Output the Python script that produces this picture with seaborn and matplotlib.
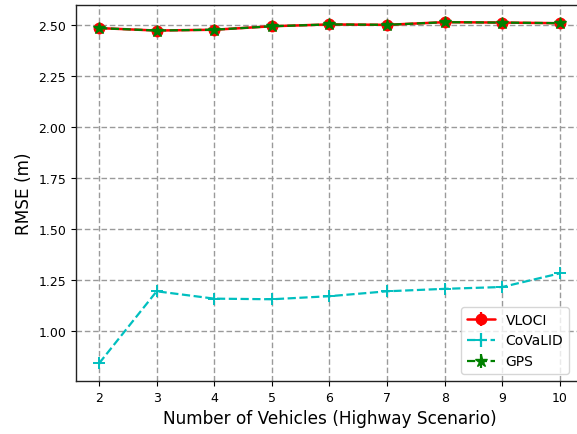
import matplotlib
matplotlib.use("Agg")
import matplotlib.pyplot as plt
import seaborn as sns
import pandas as pd
import numpy as np

vehicles = [2, 3, 4, 5, 6, 7, 8, 9, 10]
vloci = [2.484, 2.472, 2.476, 2.493, 2.502, 2.500, 2.513, 2.511, 2.508]
covalid = [0.843, 1.196, 1.160, 1.157, 1.172, 1.196, 1.208, 1.217, 1.284]
gps = [2.484, 2.472, 2.476, 2.493, 2.502, 2.500, 2.513, 2.511, 2.508]
series_names = ["VLOCI", "CoVaLID", "GPS"]

sns.set_style("ticks")
plt.rcParams['font.family'] = ['DejaVu Sans']
plt.rcParams.update({"text.color": "black", "axes.labelcolor": "black",
                     "xtick.color": "black", "ytick.color": "black"})

fig = plt.figure(figsize=(5.77, 4.35), dpi=100)
ax = fig.add_axes([76/577, 53/435, (583-76)/577, (382-6)/435])

df = pd.DataFrame({"x": vehicles * 3,
                   "y": vloci + covalid + gps,
                   "s": sum([[n] * len(vehicles) for n in series_names], [])})

styles = {
    "VLOCI": dict(color="red", ls="-", marker="o", ms=7.5, lw=1.8, mew=1.0),
    "CoVaLID": dict(color="c", ls="--", marker="+", ms=8, lw=1.6, mew=1.4),
    "GPS": dict(color="green", ls="--", marker="*", ms=9, lw=1.6, mew=1.0),
}
for name in series_names:
    st = styles[name]
    sub = df[df.s == name]
    sns.lineplot(data=sub, x="x", y="y", ax=ax, color=st["color"], linestyle=st["ls"],
                 marker=st["marker"], markersize=st["ms"], linewidth=st["lw"],
                 markeredgecolor=st["color"], markeredgewidth=st["mew"],
                 legend=False, zorder=3)

handles = []
for name in series_names:
    st = styles[name]
    h = ax.errorbar([np.nan], [np.nan], yerr=[0.1], color=st["color"], ls=st["ls"],
                    marker=st["marker"], ms=st["ms"], lw=st["lw"], mew=st["mew"],
                    elinewidth=1.6, label=name)
    handles.append(h)

ax.set_xlim(1.6, 10.4)
ax.set_ylim(0.757, 2.597)
ax.set_xticks(vehicles)
ax.set_yticks([1.00, 1.25, 1.50, 1.75, 2.00, 2.25, 2.50])
ax.set_yticklabels(["1.00", "1.25", "1.50", "1.75", "2.00", "2.25", "2.50"])
ax.grid(True, color="#9a9a9a", linestyle=(0, (4, 2)), linewidth=1.0)
ax.set_axisbelow(True)
ax.tick_params(labelsize=9, direction="out", length=3.5, color="black", labelcolor="black")
for sp in ax.spines.values():
    sp.set_color("#222222")
    sp.set_linewidth(1.0)
ax.set_xlabel("Number of Vehicles (Highway Scenario)", fontsize=12.2, color="black")
ax.set_ylabel("RMSE (m)", fontsize=12.2, color="black")
leg = ax.legend(handles=handles, labels=series_names, loc="lower right",
                bbox_to_anchor=((569-76)/507, (382-375)/376), fontsize=10, framealpha=0.8,
                borderaxespad=0.0)
for t in leg.get_texts():
    t.set_color("black")

fig.savefig("out.png", dpi=100)
